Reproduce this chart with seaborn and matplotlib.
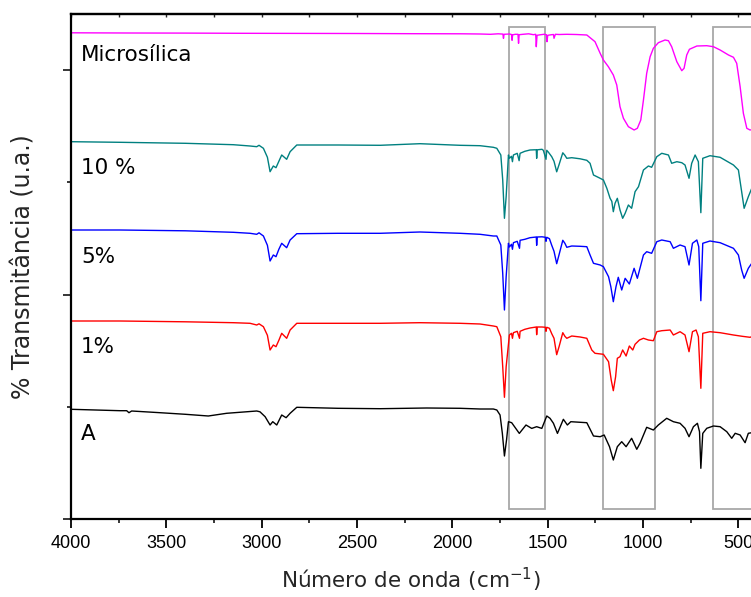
import matplotlib
matplotlib.use("Agg")
import matplotlib.pyplot as plt
from matplotlib.patches import Rectangle
from matplotlib.ticker import MultipleLocator, NullFormatter
import pandas as pd
import seaborn as sns

# ---- FTIR spectra (wavenumber in cm-1, stacked transmittance in u.a.) ----
micro_wn = [4000, 3700, 3400, 3100, 2800, 2500, 2200, 1950, 1855, 1800, 1760, 1735, 1732, 1729,
            1700, 1690, 1687, 1684, 1670, 1656, 1653, 1650, 1630, 1600, 1575, 1563, 1560, 1556,
            1540, 1520, 1507, 1504, 1500, 1480, 1470, 1467, 1460, 1440, 1400, 1350, 1295, 1252,
            1225, 1208, 1182, 1156, 1138, 1121, 1103, 1077, 1047, 1030, 1012, 998, 981, 963, 946,
            920, 885, 867, 850, 823, 797, 785, 771, 757, 718, 666, 631, 596, 552, 526, 509, 491,
            474, 456, 439, 421]
micro_t = [486.5, 486.3, 486.2, 486.0, 485.9, 485.8, 485.6, 485.5, 485.3, 485.0, 485.5, 485.2, 481.0, 485.0,
           485.3, 484.8, 479.0, 484.5, 485.0, 485.0, 476.0, 484.6, 485.0, 485.5, 484.6, 485.0, 472.6, 484.0,
           484.5, 485.0, 484.6, 477.6, 484.0, 484.6, 484.8, 481.0, 485.0, 484.8, 485.0, 484.8, 484.3, 477.6,
           466.0, 459.3, 452.6, 444.3, 434.3, 412.6, 401.0, 392.6, 389.3, 391.0, 399.3, 419.3, 446.0, 462.6, 471.0,
           476.6, 479.3, 478.6, 472.6, 457.6, 448.6, 451.0, 464.3, 470.0, 473.3, 473.6, 472.6, 469.3, 464.3, 462.0, 456.0, 432.6,
           406.0, 391.0, 389.3, 390.0]

p10_wn = [4000, 3743, 3400, 3149, 3061, 3026, 3014, 2991, 2970, 2956, 2939, 2925, 2910, 2895, 2869,
          2851, 2816, 2600, 2379, 2170, 1960, 1855, 1785, 1767, 1746, 1736, 1727, 1718, 1706, 1701,
          1690, 1685, 1680, 1660, 1650, 1645, 1620, 1593, 1570, 1560, 1558, 1555, 1530, 1523, 1509,
          1505, 1496, 1479, 1467, 1453, 1440, 1421, 1410, 1400, 1374, 1330, 1295, 1278, 1260, 1225,
          1208, 1190, 1173, 1164, 1156, 1147, 1135, 1121, 1107, 1094, 1077, 1060, 1042, 1024, 998,
          972, 955, 928, 902, 867, 850, 823, 797, 780, 759, 745, 727, 710, 697, 687, 649, 596, 526,
          500, 483, 470, 448, 430]
p10_t = [377.6, 377.0, 376.0, 374.6, 373.3, 372.6, 374.0, 371.0, 362.0, 347.6, 353.3, 351.6, 358.0, 364.3, 360.0,
         367.6, 374.3, 374.3, 374.0, 375.6, 374.0, 373.6, 372.0, 371.0, 364.3, 339.3, 301.0, 322.6, 364.3, 361.0,
         363.0, 357.6, 364.3, 366.0, 358.6, 366.0, 368.0, 369.3, 369.5, 369.5, 361.0, 369.5, 370.0, 369.0, 360.0,
         369.0, 367.0, 362.6, 358.0, 347.5, 355.0, 366.5, 364.0, 361.0, 361.6, 360.5, 359.0, 356.0, 344.3, 341.0,
         339.3, 331.0, 321.0, 318.0, 307.6, 316.0, 321.0, 309.3, 301.0, 306.0, 314.3, 311.0, 327.6, 332.6, 349.3,
         353.3, 352.0, 362.6, 366.0, 364.3, 356.0, 357.6, 356.6, 354.3, 341.0, 356.0, 364.3, 357.6, 306.6, 361.0, 363.6, 362.0, 354.3,
         349.3, 327.6, 311.0, 322.6, 331.0]

p5_wn = [4000, 3743, 3400, 3149, 3061, 3026, 3014, 2991, 2970, 2956, 2939, 2925, 2910, 2895, 2869,
         2851, 2816, 2600, 2379, 2170, 1960, 1855, 1785, 1767, 1746, 1736, 1727, 1718, 1706, 1701,
         1690, 1685, 1680, 1660, 1648, 1645, 1620, 1593, 1560, 1558, 1555, 1530, 1512, 1509, 1505,
         1491, 1479, 1467, 1453, 1440, 1421, 1410, 1400, 1374, 1330, 1295, 1278, 1260, 1225, 1208,
         1181, 1169, 1156, 1142, 1130, 1112, 1094, 1072, 1047, 1030, 998, 981, 955, 928, 902, 858,
         841, 806, 780, 759, 741, 718, 708, 697, 687, 649, 596, 526, 500, 483, 470, 448, 430]
p5_t = [289.3, 289.3, 288.5, 287.0, 286.0, 285.0, 286.5, 283.3, 274.0, 258.3, 264.3, 262.6, 270.0, 276.0, 271.6,
        279.3, 285.6, 286.0, 286.0, 287.3, 286.0, 285.0, 283.3, 283.3, 274.3, 246.0, 209.3, 242.6, 276.0, 272.3,
        275.0, 270.0, 276.6, 278.0, 271.0, 279.0, 280.0, 281.6, 282.3, 274.0, 282.3, 282.5, 282.0, 278.0, 282.0,
        280.6, 274.0, 268.0, 255.6, 265.0, 279.0, 276.0, 272.0, 273.3, 273.0, 272.6, 264.3, 256.0, 254.3, 252.6,
        242.6, 232.6, 217.6, 232.6, 242.0, 229.3, 241.0, 235.3, 251.0, 241.0, 264.3, 267.6, 266.0, 277.6, 279.3, 277.6,
        271.0, 274.3, 272.6, 254.3, 276.0, 279.3, 272.6, 218.6, 276.0, 278.3, 276.6, 271.0, 264.3, 249.3, 241.0, 251.0, 256.0]

p1_wn = [4000, 3743, 3400, 3149, 3061, 3026, 3014, 2991, 2970, 2956, 2939, 2925, 2910, 2895, 2869,
         2851, 2816, 2600, 2379, 2170, 1960, 1855, 1785, 1767, 1746, 1736, 1727, 1718, 1701, 1690,
         1685, 1680, 1660, 1648, 1645, 1620, 1593, 1560, 1558, 1555, 1530, 1512, 1509, 1505, 1491,
         1479, 1467, 1453, 1440, 1421, 1410, 1400, 1374, 1330, 1295, 1269, 1252, 1208, 1181, 1167,
         1156, 1144, 1135, 1121, 1107, 1089, 1072, 1054, 1042, 1019, 998, 972, 946, 928, 902, 858,
         841, 806, 780, 759, 741, 722, 710, 697, 687, 649, 596, 526, 480, 439, 425]
p1_t = [198.3, 198.3, 197.5, 196.6, 196.0, 194.3, 195.5, 192.6, 184.0, 169.3, 174.3, 172.6, 179.0, 186.0, 181.0,
        189.3, 196.0, 196.0, 196.0, 196.6, 196.0, 195.3, 193.3, 192.6, 182.6, 152.6, 122.0, 152.6, 184.3, 186.0,
        181.0, 186.6, 188.0, 181.0, 188.0, 190.0, 191.3, 192.3, 184.6, 192.3, 192.3, 192.0, 188.0, 192.0, 191.0,
        185.6, 181.0, 164.6, 173.0, 186.6, 183.0, 181.0, 183.3, 182.3, 181.0, 169.3, 166.0, 165.0, 157.6, 139.3,
        128.6, 142.6, 161.0, 162.6, 169.3, 163.3, 173.3, 169.3, 175.0, 179.3, 181.0, 179.3, 178.6, 187.6, 188.6, 189.3,
        184.3, 187.6, 184.3, 167.6, 187.6, 189.3, 182.6, 131.0, 186.0, 187.6, 186.6, 184.3, 183.0, 182.0, 183.0]

a_wn = [4000, 3743, 3708, 3696, 3682, 3533, 3400, 3280, 3184, 3026, 3009, 2982, 2956, 2942, 2921,
        2895, 2872, 2851, 2816, 2600, 2379, 2135, 1960, 1855, 1785, 1767, 1750, 1738, 1727, 1716,
        1706, 1689, 1649, 1614, 1584, 1558, 1531, 1505, 1488, 1470, 1449, 1418, 1397, 1379, 1295,
        1260, 1225, 1204, 1176, 1156, 1135, 1112, 1089, 1060, 1033, 1016, 981, 946, 920, 876, 841,
        806, 780, 759, 736, 715, 704, 697, 687, 666, 631, 596, 561, 535, 517, 491, 465, 448, 430]
a_t = [110.0, 108.6, 108.6, 106.6, 108.3, 106.6, 105.0, 103.3, 106.0, 108.3, 107.5, 102.6, 94.3, 97.6, 94.3,
       104.3, 101.6, 106.0, 112.0, 111.0, 110.6, 111.3, 111.0, 110.3, 110.3, 109.3, 104.3, 86.0, 63.3, 79.3,
       97.6, 96.6, 85.9, 94.3, 90.9, 92.6, 90.9, 103.3, 101.0, 96.0, 85.9, 100.0, 94.3, 97.6, 96.6,
       83.3, 82.6, 84.3, 72.6, 59.3, 72.6, 77.6, 72.6, 81.0, 70.0, 76.0, 92.0, 89.3, 94.3, 101.0, 97.6,
       96.0, 91.0, 82.6, 92.6, 96.0, 87.6, 51.0, 85.9, 91.0, 93.3, 92.6, 87.6, 81.0, 86.0, 84.3, 76.6, 86.0, 86.6]

sample_names = ["Microsílica", "10 %", "5%", "1%", "A"]
sample_colors = ["#ff00ff", "#008080", "#0000ff", "#ff0000", "#000000"]
# text anchor heights (baseline) of the sample names, in u.a.
label_heights = [458.0, 345.3, 256.3, 166.3, 79.3]

# highlighted spectral windows (cm-1)
band_hi = [1701, 1208, 631]
band_lo = [1512, 935, 400]

x_ticks = [4000, 3500, 3000, 2500, 2000, 1500, 1000, 500]

spectra = [(micro_wn, micro_t), (p10_wn, p10_t), (p5_wn, p5_t), (p1_wn, p1_t), (a_wn, a_t)]
frames = []
for name, (wn, t) in zip(sample_names, spectra):
    frames.append(pd.DataFrame({"wn": wn, "T": t, "amostra": name}))
df = pd.concat(frames, ignore_index=True)

sns.set_style("ticks")
plt.rcParams["font.family"] = ["DejaVu Sans"]

fig = plt.figure(figsize=(7.51, 5.97), dpi=100)
W, H = 751.0, 597.0
ax = fig.add_axes([71 / W, 1 - 519.3 / H, 680 / W, (519.3 - 14.2) / H])

sns.lineplot(data=df, x="wn", y="T", hue="amostra", hue_order=sample_names,
             palette=dict(zip(sample_names, sample_colors)), estimator=None,
             sort=True, legend=False, linewidth=1.0, ax=ax)

for hi, lo in zip(band_hi, band_lo):
    ax.add_patch(Rectangle((lo, 10), hi - lo, 482, fill=False,
                           edgecolor="#a8a8a8", linewidth=1.3, zorder=1))

for name, yv in zip(sample_names, label_heights):
    ax.text(3948, yv, name, fontsize=15.5, color="black", va="baseline", ha="left")

ax.set_xlim(4000, 434)
ax.set_ylim(0, 505.1)
ax.set_xticks(x_ticks)
ax.set_xticklabels([str(v) for v in x_ticks], fontfamily="Liberation Sans", fontsize=13)
ax.xaxis.set_minor_locator(MultipleLocator(250))
ax.yaxis.set_major_locator(MultipleLocator(224.6))
ax.yaxis.set_minor_locator(MultipleLocator(112.3))
ax.yaxis.set_major_formatter(NullFormatter())

ax.tick_params(axis="x", which="major", direction="out", length=6.5, width=1.3, pad=5, colors="black")
ax.tick_params(axis="x", which="minor", direction="out", length=3, width=1.3)
ax.tick_params(axis="y", which="major", direction="out", length=6, width=1.3)
ax.tick_params(axis="y", which="minor", direction="out", length=3, width=1.3)

for side in ["left", "bottom", "top"]:
    ax.spines[side].set_linewidth(1.6)
    ax.spines[side].set_color("black")
ax.spines["right"].set_visible(False)

top = ax.secondary_xaxis("top")
top.xaxis.set_major_locator(MultipleLocator(250))
top.tick_params(direction="in", length=2.5, width=1.0, labeltop=False)
top.spines["top"].set_linewidth(1.6)

ax.set_xlabel("Número de onda (cm$^{-1}$)", fontsize=15.5)
ax.xaxis.set_label_coords(0.5, -0.092)
ax.xaxis.label.set_va("top")
ax.set_ylabel("% Transmitância (u.a.)", fontsize=17)
ax.yaxis.set_label_coords(-0.052, 0.5)

fig.savefig("out.png", dpi=100)
